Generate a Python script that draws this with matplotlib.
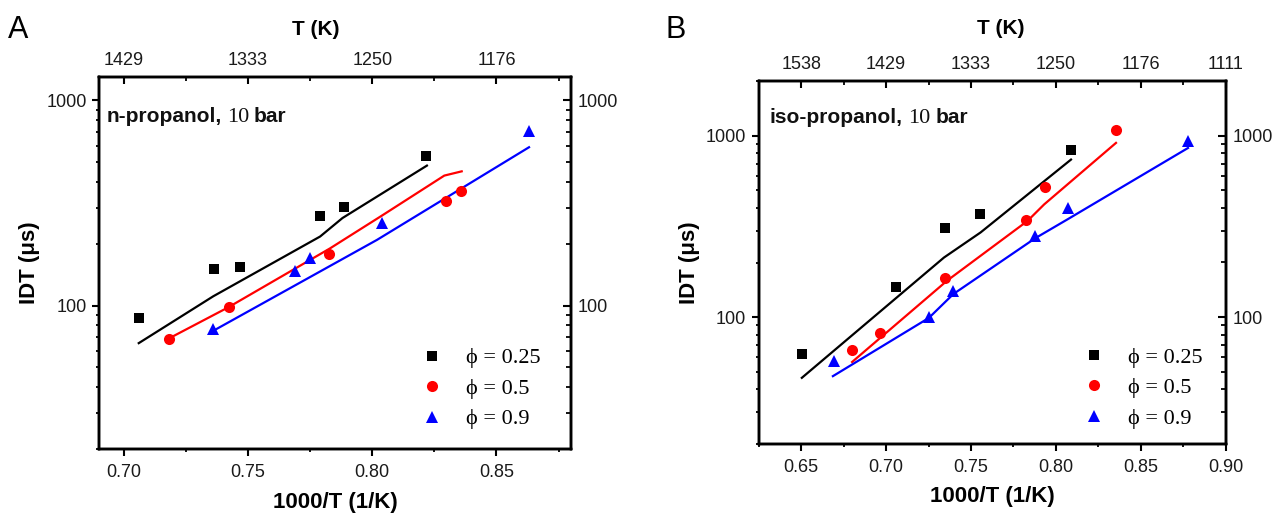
import numpy as np
import matplotlib
matplotlib.use("Agg")
import matplotlib.pyplot as plt
from matplotlib.ticker import FixedLocator, FuncFormatter, NullFormatter, LogLocator

# ---------------- data ----------------
phi_labels = ["\u03d5 = 0.25", "\u03d5 = 0.5", "\u03d5 = 0.9"]
colors = ["#000000", "#ff0000", "#0000ff"]
markers = ["s", "o", "^"]
msizes = [7.0, 8.0, 9.0]

# n-propanol (panel A): experiments
np_x025 = [0.7061, 0.7363, 0.7467, 0.7791, 0.7885, 0.8215]
np_y025 = [87, 150, 155, 273, 301, 533]
np_x05 = [0.7180, 0.7422, 0.7826, 0.8297, 0.8359]
np_y05 = [69, 98, 179, 324, 362]
np_x09 = [0.7357, 0.7687, 0.7749, 0.8040, 0.8631]
np_y09 = [77, 148, 170, 252, 708]
# n-propanol: model
np_mx025 = [0.706, 0.736, 0.779, 0.788, 0.822]
np_my025 = [65.6, 111, 217, 267, 481]
np_mx05 = [0.718, 0.742, 0.783, 0.804, 0.829, 0.836]
np_my05 = [69, 98, 190, 275, 430, 451]
np_mx09 = [0.7357, 0.8019, 0.8631]
np_my09 = [75, 209, 591]

# iso-propanol (panel B): experiments
ip_x025 = [0.6505, 0.7056, 0.7345, 0.7552, 0.8087]
ip_y025 = [63, 146, 308, 370, 830]
ip_x05 = [0.6800, 0.6964, 0.7349, 0.7823, 0.7937, 0.8354]
ip_y05 = [65.5, 81.7, 164, 343, 519, 1070]
ip_x09 = [0.6691, 0.7252, 0.7396, 0.7878, 0.8069, 0.8778]
ip_y09 = [57.4, 100, 139, 279, 401, 931]
# iso-propanol: model
ip_mx025 = [0.6504, 0.7341, 0.7557, 0.8089]
ip_my025 = [46.3, 213, 293, 738]
ip_mx05 = [0.6800, 0.7360, 0.7833, 0.7931, 0.8354]
ip_my05 = [56.6, 159, 339, 418, 912]
ip_mx09 = [0.6687, 0.7252, 0.7396, 0.7878, 0.8069, 0.8778]
ip_my09 = [47.3, 99, 134, 272, 346, 855]

left_xticks = [0.70, 0.75, 0.80, 0.85]
right_xticks = [0.65, 0.70, 0.75, 0.80, 0.85, 0.90]
ytick_vals = [100, 1000]

# ---------------- style ----------------
plt.rcParams['font.family'] = ['Liberation Sans', 'DejaVu Sans']
SANS = ['Liberation Sans', 'DejaVu Sans']
SERIF = ['Liberation Serif', 'DejaVu Serif']
TICKC = '#1a1a1a'

fig = plt.figure(figsize=(12.85, 5.14), dpi=100)
W, H = 1285, 514


def make_panel(rect, xlim, ylim, xticks, exp, model, label_name,
               top_label_x, top_label_y, leg_anchor, text_pos):
    ax = fig.add_axes(rect)
    ax.set_yscale('log')
    for (xs, ys), c, m, ms, lab in zip(exp, colors, markers, msizes, phi_labels):
        ax.plot(xs, ys, linestyle='none', marker=m, color=c, markersize=ms,
                markeredgewidth=0, label=lab, zorder=3)
    for (xs, ys), c in zip(model, colors):
        ax.plot(xs, ys, '-', color=c, linewidth=1.6, zorder=2)
    ax.set_xlim(*xlim)
    ax.set_ylim(*ylim)
    for s in ax.spines.values():
        s.set_linewidth(1.7)

    # bottom / left axes (outward ticks)
    ax.xaxis.set_major_locator(FixedLocator(xticks))
    minors = [x + 0.025 for x in xticks] + [xticks[0] - 0.025]
    ax.xaxis.set_minor_locator(FixedLocator(minors))
    ax.xaxis.set_major_formatter(FuncFormatter(lambda v, p: f"{v:.2f}"))
    ax.yaxis.set_major_locator(FixedLocator(ytick_vals))
    ax.yaxis.set_minor_locator(LogLocator(base=10, subs=np.arange(2, 10), numticks=20))
    ax.yaxis.set_major_formatter(FuncFormatter(lambda v, p: f"{v:g}"))
    ax.yaxis.set_minor_formatter(NullFormatter())
    ax.tick_params(axis='both', which='major', direction='out', length=5,
                   width=1.5, labelsize=13, labelcolor=TICKC, pad=4)
    ax.tick_params(axis='both', which='minor', direction='out', length=2.5, width=1.3)
    ax.tick_params(axis='x', which='major', pad=6)
    ax.tick_params(top=False, right=False, which='both')

    ax.set_xlabel("1000/T (1/K)", fontsize=16, fontweight='bold')
    ax.xaxis.set_label_coords(0.5, -0.115)
    ax.set_ylabel("IDT (\u03bcs)", fontsize=16, fontweight='bold')
    ax.yaxis.set_label_coords(-0.125, 0.5)

    # top axis (T in K), inward ticks
    axt = ax.twiny()
    axt.set_xlim(ax.get_xlim())
    axt.xaxis.set_major_locator(FixedLocator(xticks))
    axt.xaxis.set_minor_locator(FixedLocator(minors))
    axt.xaxis.set_major_formatter(FuncFormatter(lambda v, p: f"{1000 / v:.0f}"))
    axt.tick_params(axis='x', which='major', direction='in', length=5, width=1.5,
                    labelsize=13, labelcolor=TICKC, pad=5.5)
    axt.tick_params(axis='x', which='minor', direction='in', length=3, width=1.3)
    axt.set_xlabel("T (K)", fontsize=15, fontweight='bold')
    axt.xaxis.set_label_coords(top_label_x, top_label_y)

    # right axis, inward ticks with labels
    axr = ax.twinx()
    axr.set_yscale('log')
    axr.set_ylim(ax.get_ylim())
    axr.yaxis.set_major_locator(FixedLocator(ytick_vals))
    axr.yaxis.set_minor_locator(LogLocator(base=10, subs=np.arange(2, 10), numticks=20))
    axr.yaxis.set_major_formatter(FuncFormatter(lambda v, p: f"{v:g}"))
    axr.yaxis.set_minor_formatter(NullFormatter())
    axr.tick_params(axis='y', which='major', direction='in', length=6, width=1.5,
                    labelsize=13, labelcolor=TICKC, pad=5)
    axr.tick_params(axis='y', which='minor', direction='in', length=3.5, width=1.3)
    for a in (axt, axr):
        for s in a.spines.values():
            s.set_linewidth(1.7)

    # legend (markers only)
    leg = ax.legend(loc='upper left', bbox_to_anchor=leg_anchor, frameon=False,
                    prop={'family': SERIF, 'size': 16}, handlelength=1.0,
                    handletextpad=1.0, labelspacing=0.45, borderpad=0,
                    borderaxespad=0, numpoints=1)
    leg.set_zorder(5)

    # annotation "xxx-propanol, 10 bar" (mixed fonts)
    fig.canvas.draw()
    r = fig.canvas.get_renderer()
    bbox_ax = ax.get_window_extent(r)
    x0, y0 = text_pos
    parts = [(label_name + ",", SANS, 'bold', 15), ("10", SERIF, 'normal', 16),
             ("bar", SANS, 'bold', 15)]
    gap = 5.0 / bbox_ax.width
    x = x0
    for s, fam, wt, fs in parts:
        t = ax.text(x, y0, s, transform=ax.transAxes, fontsize=fs, fontweight=wt,
                    family=fam, va='baseline', ha='left', color='#111111')
        ext = t.get_window_extent(r)
        x += ext.width / bbox_ax.width + gap
    return ax


ax1 = make_panel([99 / W, 65 / H, 472 / W, 372 / H], (0.69, 0.88), (20, 1300), left_xticks,
                 [(np_x025, np_y025), (np_x05, np_y05), (np_x09, np_y09)],
                 [(np_mx025, np_my025), (np_mx05, np_my05), (np_mx09, np_my09)],
                 "n-propanol", 0.46, 1.112, (0.683, 0.272), (0.016, 0.878))
ax2 = make_panel([758.7 / W, 70 / H, 467 / W, 363 / H], (0.625, 0.90), (20, 2000), right_xticks,
                 [(ip_x025, ip_y025), (ip_x05, ip_y05), (ip_x09, ip_y09)],
                 [(ip_mx025, ip_my025), (ip_mx05, ip_my05), (ip_mx09, ip_my09)],
                 "iso-propanol", 0.518, 1.13, (0.695, 0.267), (0.024, 0.883))

fig.text(8 / W, 1 - 38 / H, "A", fontsize=22, va='baseline', ha='left')
fig.text(665 / W, 1 - 38 / H, "B", fontsize=22, va='baseline', ha='left')

fig.savefig("out.png", dpi=100)
